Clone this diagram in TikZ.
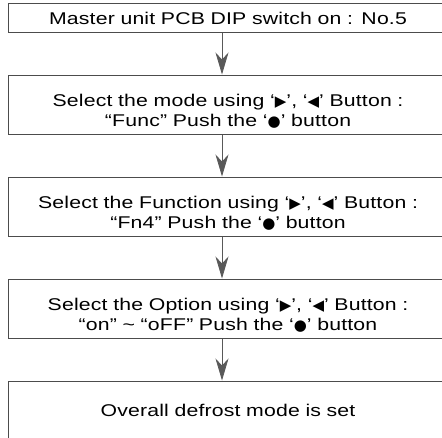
\documentclass[tikz,border=0pt]{standalone}
\usepackage{fontspec}
\setmainfont[FakeStretch=1.25, LetterSpace=1]{Liberation Sans}
\newfontfamily\symfont{DejaVu Sans}
\usetikzlibrary{arrows.meta, positioning}

\newcommand{\rtri}{{\symfont\fontsize{15}{15}\selectfont ▶}}
\newcommand{\ltri}{{\symfont\fontsize{15}{15}\selectfont ◀}}
\newcommand{\pushdot}{{\symfont\fontsize{15}{15}\selectfont ●}}
\newcommand{\lowstrut}{\rule{0pt}{26pt}}

\begin{document}
\begin{tikzpicture}[
    box/.style={rectangle, draw=black!70, line width=1pt, text width=440pt, minimum height=59pt, inner sep=0pt, align=center, font=\fontsize{17}{20.5}\selectfont},
    arrow/.style={-{Stealth[length=22pt, width=13pt, inset=7pt]}, draw=black!65, line width=0.8pt},
    node distance=42pt
]
\useasboundingbox (0,0) rectangle (442pt,-437pt);

% Nodes
\node[box, minimum height=29pt] (dip) at (228pt,-17.5pt) {\rule{0pt}{15pt}Master unit PCB DIP switch on : No.5};
\node[box, below=of dip] (mode) {\lowstrut Select the mode using ‘\rtri’, ‘\ltri’ Button :\\“Func” Push the ‘\pushdot’ button};
\node[box, below=of mode] (func) {\lowstrut Select the Function using ‘\rtri’, ‘\ltri’ Button :\\“Fn4” Push the ‘\pushdot’ button};
\node[box, below=of func] (option) {\lowstrut Select the Option using ‘\rtri’, ‘\ltri’ Button :\\“on” \textasciitilde{} “oFF” Push the ‘\pushdot’ button};
\node[box, below=of option] (defrost) {Overall defrost mode is set};

% Arrows
\draw[arrow] ([xshift=-6pt]dip.south) -- ([xshift=-6pt]mode.north);
\draw[arrow] ([xshift=-6pt]mode.south) -- ([xshift=-6pt]func.north);
\draw[arrow] ([xshift=-6pt]func.south) -- ([xshift=-6pt]option.north);
\draw[arrow] ([xshift=-6pt]option.south) -- ([xshift=-6pt]defrost.north);
\end{tikzpicture}
\end{document}
